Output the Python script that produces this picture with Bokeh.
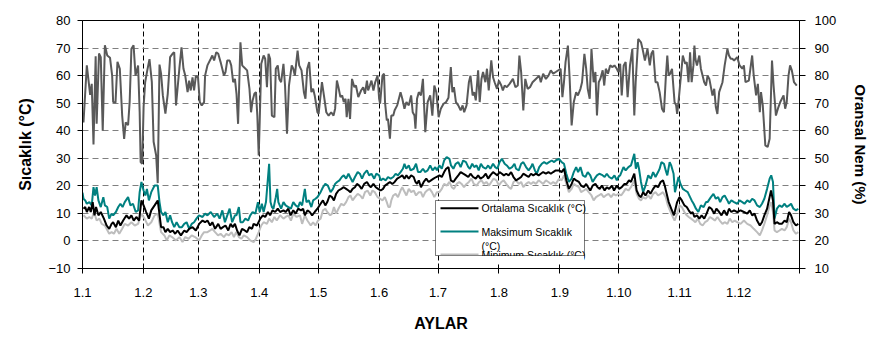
from bokeh.plotting import figure
from bokeh.models import Range1d, LinearAxis, FixedTicker, BoxAnnotation, Label
from bokeh.embed import file_html
from bokeh.resources import INLINE

# ---------------- data (day of year, value) ----------------
month_ticks = [0, 31, 59, 90, 120, 151, 181, 212, 243, 273, 304, 334, 365]
month_labels = ["1.1", "1.2", "1.3", "1.4", "1.5", "1.6", "1.7", "1.8", "1.9",
                "1.10", "1.11", "1.12", ""]
temp_ticks = [-10, 0, 10, 20, 30, 40, 50, 60, 70, 80]
hum_ticks = [10, 20, 30, 40, 50, 60, 70, 80, 90, 100]

# Oransal Nem (%)
humidity = [
    (0.5, 63), (2.2, 83.7), (3.9, 73), (4.7, 77), (5.6, 55), (6.7, 87), (7.2, 62.5), (8.4, 88),
    (9.3, 86.7), (10.3, 60), (11.4, 91), (12.6, 87.3), (14, 86.5), (15.1, 80), (15.6, 70.4),
    (16.8, 70.2), (17.8, 85), (19, 82.5), (20.2, 65.5), (21.2, 57), (22, 63), (23.2, 62),
    (24, 70.4), (24.9, 89.7), (26, 91), (27, 80), (28.3, 83.7), (29.1, 66.8), (29.6, 48.6),
    (30.4, 48), (31.1, 68.6), (31.9, 77.6), (33, 82), (34.1, 86), (35.3, 77.6), (36.2, 56),
    (37.5, 51), (38.3, 41), (39.2, 84), (40, 80.7), (40.9, 72.8), (42.2, 66.2), (43.4, 73.4),
    (44.6, 86.7), (45.9, 88), (46.7, 88.5), (47.6, 69.2), (49.3, 82.5), (50.4, 90.3),
    (51.4, 82.5), (52.3, 80), (53.5, 74), (54.3, 78.2), (55.1, 74.6), (56, 79.4), (56.8, 74.6),
    (57.7, 79.8), (58.8, 79.4), (59.7, 70.4),
    (60.7, 69.2), (61.9, 70.4), (62.4, 80), (63.6, 83.7), (65.3, 86.1), (66.1, 87.3), (67, 85.5),
    (68.1, 88.5), (69.1, 87.9), (70.3, 84.9), (72, 80), (72.8, 81.3), (73.7, 85.5), (74.9, 85.5),
    (75.7, 83.7), (76.7, 77.6), (77.6, 78.8), (78.4, 73.4), (79.2, 62.5), (80.4, 92.1),
    (81.3, 83.7), (82.1, 83.1), (83.8, 81.9), (85, 75.2), (85.8, 66.7), (86.6, 71), (87.5, 73.4),
    (88.3, 74), (89, 65.5), (89.7, 51), (90.2, 63.1), (91, 84.3), (92.2, 87.3), (93, 86.1),
    (93.9, 75.8), (94.7, 87.9), (95.5, 86.1), (96.4, 65.5), (97.7, 64.9), (98.4, 82.5),
    (99.4, 83.7), (100.2, 78.8), (101.1, 77.6), (102.3, 84.3), (103.1, 76.4), (104.1, 58.9),
    (105.1, 76.4), (106.5, 83.7), (107.3, 82.5), (108.1, 80), (109.5, 89.1), (110.3, 83.7),
    (111.5, 81.9), (112.7, 74), (113.5, 71.6), (114.4, 82.5), (115.4, 84.9), (116.5, 74),
    (117.4, 75.2), (118.2, 72.8), (119.6, 66.7), (120.2, 66.1),
    (121.9, 77.6), (122.9, 72.8), (124.1, 66.7), (125.3, 65.5), (126.6, 66.7), (127.8, 65.5),
    (128.6, 68), (129.5, 78.2), (130.3, 75.8), (131.3, 72.2), (132.2, 72.8), (133, 70.4),
    (133.9, 71.6), (134.5, 64.9), (135.4, 71.6), (136.2, 64.3), (137.2, 78.8), (138.4, 75.8),
    (139.2, 76.4), (140.4, 72.2), (141.8, 74.6), (142.9, 75.8), (143.8, 73.4), (144.8, 78.2),
    (145.4, 74.6), (146.3, 76.4), (147.1, 78.2), (148.1, 74.6), (149, 77.6), (150.2, 80),
    (151, 71.6), (151.5, 69.8), (152.7, 80), (153.5, 80.7), (154, 70.4), (154.9, 63.7),
    (155.5, 64.3), (156.5, 57.1), (157.2, 65.5), (158.2, 65.5), (158.9, 67.4), (160.2, 69.2),
    (161.9, 74), (162.8, 71.6), (163.9, 68), (164.9, 70.4), (166.1, 69.2), (167.3, 72.8),
    (168.1, 66.7), (169, 65.5), (169.5, 60.7), (170.3, 71.6), (171.2, 74), (172.3, 72.8),
    (173.3, 78.8), (174.5, 59.5), (175.7, 70.4), (177, 72.8), (178.1, 65.5), (179.1, 76.4),
    (180.1, 74), (181.3, 64.9),
    (182.4, 68), (183.8, 69.8), (185.1, 70.4), (186.3, 72), (187.5, 83.1), (188.3, 74),
    (189.1, 75.8), (190.1, 70.4), (191.3, 69.2), (192.5, 67.4), (193.5, 69.2), (194.3, 66.7),
    (195.5, 69.2), (196.7, 77.6), (197.5, 80), (198.6, 72.8), (199.4, 74), (200.2, 71),
    (201.4, 81.9), (202.2, 70.4), (203.1, 78.8), (203.9, 81.3), (205.1, 77.6), (205.9, 82.5),
    (206.8, 74.6), (208.1, 85.5), (209, 79.4), (209.8, 77.6), (211, 75.2), (212, 78.2),
    (213.2, 76.4), (214, 74.6), (214.9, 76.4), (216, 75.8), (217.4, 77), (219.1, 78.8),
    (220.4, 75.8), (221.6, 76.4), (222.4, 87.3), (223.3, 81.3), (224.4, 67.4), (225.4, 78.8),
    (226.6, 75.2), (227.8, 75.8), (229.1, 77.6), (230.8, 78.8), (232.5, 80), (233.3, 77.6),
    (234.5, 80.7), (235.9, 78.8), (237.2, 80), (238.4, 81.9), (239.6, 80.7), (240.9, 81.3),
    (243.4, 82.5), (244.3, 72.2), (245.1, 77.6), (245.9, 84.9), (247.1, 90.9), (248, 78.8),
    (249, 61.9), (250.1, 70.4), (251.3, 74), (252.2, 72.8), (253.5, 75.2), (254.3, 77.6),
    (255.5, 87.9), (256.4, 82.5), (257.2, 75.2), (258.2, 71.6), (259.1, 89.7), (260.2, 77.6),
    (261.1, 81.3), (261.9, 65.5), (262.8, 77.6), (263.6, 78.8), (264.8, 81.9), (265.6, 76.4),
    (266.4, 82.5), (267.5, 80.7), (268.6, 83.7), (269.8, 83.1), (270.8, 83.7), (272, 82.5),
    (272.8, 81.3), (273.7, 84.3), (274.5, 72.8), (275.5, 83.7), (276.5, 84.9), (277.5, 72.2),
    (278.7, 83.7), (279.9, 89.7), (280.9, 65.5), (281.6, 77.6), (282.9, 93.3), (284.3, 92.1),
    (285.1, 89.7), (286.3, 85.5), (287.6, 89.7), (288.8, 83.7), (289.6, 87.9), (290.5, 89.1),
    (291.7, 77.6), (292.7, 77.6), (293.8, 74), (295, 68), (296, 66.7), (296.9, 78.8),
    (297.7, 87.3), (298.4, 80), (299.2, 80.7), (300.1, 82.5), (301.4, 70.4),
    (302.2, 69.2), (302.7, 66.1), (303.4, 70.4), (305.6, 87.3), (306.8, 84.3), (307.6, 84.9),
    (308.5, 77.6), (309.3, 88.5), (310.1, 77.6), (311, 83.7), (311.5, 90.9), (312, 86.1),
    (312.8, 83.7), (314, 87.3), (314.8, 82.5), (316.5, 77.6), (317.4, 76.4), (318.2, 80),
    (319.1, 78.8), (319.9, 75.8), (320.7, 72.8), (321.6, 75.2), (322.4, 68.6), (323.2, 66.1),
    (324.1, 74), (325.8, 77.6), (326.9, 83.7), (328.3, 89.7), (329.1, 87.3), (330, 86.1),
    (330.8, 86.1), (331.7, 85.5), (333.3, 86.7), (334.5, 83.7), (335.9, 82.5), (336.7, 83.7),
    (337.5, 77.6), (339.2, 78.2), (340.9, 87.3), (341.7, 80), (342.9, 72.8), (343.8, 77),
    (344.8, 66.7), (345.4, 74), (346.3, 69.2), (347.6, 54.7), (348.8, 54.1), (349.8, 57.1),
    (351, 85.5), (351.8, 76.4), (353, 65.5), (354, 68), (355.2, 70.4), (356.9, 72.8),
    (357.7, 68), (358.5, 70.4), (359.4, 80), (360.2, 83.7), (361.1, 81.9), (362.2, 77.6),
    (363.6, 76.4),
]

# Maksimum Sicaklik (°C)
t_max = [
    (0, 17.5), (0.5, 15.3), (1.4, 14.7), (2.2, 13.5), (3.5, 14.1), (4.7, 12.9), (5.6, 19.5),
    (6.4, 16.5), (7.2, 19.5), (8.1, 14.7), (9.3, 12.3), (10.6, 15.9), (11.4, 12.9), (12.6, 12.3),
    (13.6, 8.1), (14.8, 9.9), (15.6, 9.3), (17, 10.5), (18.2, 12.3), (19.3, 13.5), (20.4, 12.3),
    (21.5, 14.1), (23.2, 15.9), (24.4, 12.9), (25.7, 13.5), (27.1, 10.5), (28.3, 11.1),
    (29.1, 17.7), (30, 21.4), (31.1, 18.3), (32, 16.5), (32.8, 18.9), (33.8, 14.7), (35, 17.7),
    (36.7, 20.1), (38.3, 20.1), (39.2, 14.1), (40, 10.5), (41.2, 9.3), (42.2, 10.5), (43.4, 6.8),
    (44.6, 9.3), (45.6, 6.8), (46.7, 5.0), (47.9, 6.8), (49.3, 5.0), (50.6, 5.0), (51.8, 6.2),
    (53, 6.8), (54.3, 4.4), (55.6, 6.2), (56.8, 6.8), (58, 8.1), (59.3, 9.3),
    (61.1, 8.7), (62.4, 9.9), (63.6, 9.3), (65.3, 10.5), (67, 8.7), (68.6, 9.9), (69.8, 8.1),
    (71.2, 11.1), (72.5, 6.8), (73.7, 9.3), (74.9, 11.7), (76.2, 6.8), (77.6, 9.3), (78.4, 9.3),
    (79.6, 12.3), (80.4, 6.8), (81.6, 6.8), (82.9, 8.1), (84.3, 7.4), (85.4, 9.3), (86.6, 10.5),
    (88, 9.9), (89.3, 14.1), (90.2, 10.5), (91.3, 13.5), (92.2, 10.5), (93.4, 14.1), (95, 28.0),
    (95.7, 14.1), (96.4, 12.3), (97.2, 11.7), (98.4, 15.9), (99.1, 18.9), (99.7, 14.1),
    (101.1, 11.7), (102.3, 14.1), (103.4, 12.9), (104.8, 12.3), (106.1, 11.7), (107.3, 14.1),
    (108.5, 12.9), (109.8, 12.3), (110.7, 14.1), (111.8, 12.9), (113.2, 18.9), (114, 14.1),
    (115.2, 14.7), (116.5, 12.3), (117.4, 14.7), (118.6, 15.3), (119.6, 15.9),
    (121.2, 17.7), (122.4, 19.5), (123.6, 20.7), (124.9, 20.1), (126.3, 17.7), (127.5, 18.9),
    (128.6, 20.7), (129.6, 21.4), (130.8, 22.0), (132, 23.2), (133, 23.8), (134.2, 22.6),
    (135.4, 24.4), (136.2, 23.2), (137.5, 21.4), (138.7, 23.2), (140.1, 25.0), (141.2, 24.4),
    (142.3, 22.6), (143.4, 24.4), (144.8, 25.6), (145.9, 23.8), (147.1, 24.4), (148.5, 22.6),
    (149.6, 24.4), (151, 23.8), (151.8, 22.0), (153, 22.6), (154.4, 22.0), (155.5, 23.2),
    (156.9, 22.6), (158.2, 23.2), (159.4, 24.4), (160.6, 23.8), (161.9, 25.0), (163.1, 26.2),
    (163.9, 28.0), (164.8, 26.2), (166.1, 27.4), (167, 25.6), (168.6, 26.2), (169.8, 28.0),
    (170.8, 25.0), (172, 25.0), (173.3, 26.2), (174.5, 25.0), (175.7, 25.6), (177, 27.4),
    (178.2, 25.6), (179.6, 26.8), (180.4, 25.6),
    (181.7, 27.4), (182.9, 26.2), (184.1, 29.2), (185.4, 30.4), (186.8, 29.8), (187.6, 27.4),
    (188.8, 26.2), (190, 28.0), (191.3, 28.6), (192.5, 26.8), (193.8, 29.2), (195.2, 28.6),
    (196.4, 26.8), (197.2, 26.2), (198.4, 28.0), (199.4, 26.8), (200.6, 27.4), (201.7, 25.6),
    (202.8, 28.0), (203.9, 26.8), (205.3, 26.2), (206.5, 27.4), (207.6, 26.2), (209, 28.0),
    (210.1, 26.8), (211.2, 26.2), (212.3, 28.6), (213.5, 29.8), (214.9, 28.0), (216, 27.4),
    (217.4, 26.2), (218.7, 26.8), (219.9, 28.0), (220.7, 26.2), (222.1, 25.6), (223.3, 28.0),
    (224.4, 28.6), (225.8, 26.8), (227.1, 25.6), (228.3, 26.8), (229.1, 28.0), (230.3, 25.6),
    (231.3, 24.4), (232.5, 26.8), (233.8, 28.0), (235, 28.6), (236.2, 28.0), (237.5, 28.6),
    (238.9, 29.2), (240.1, 28.6),
    (240.9, 29.2), (242.6, 29.8), (243.9, 28.6), (245.1, 28.0), (246.3, 24.4), (247.6, 21.4),
    (249, 22.6), (250.1, 25.0), (251.3, 26.8), (252.3, 25.0), (253.5, 26.8), (254.7, 23.8),
    (256, 23.2), (257.2, 25.0), (258.5, 23.8), (259.7, 21.4), (260.7, 22.6), (261.9, 23.8),
    (263.1, 24.4), (264.4, 24.0), (265.8, 23.2), (266.9, 24.4), (268.1, 23.2), (269.5, 22.6),
    (270.8, 23.8), (272, 22.0), (272.8, 23.2), (273.7, 23.8), (275.4, 26.8), (276.5, 25.6),
    (277.9, 26.8), (279.2, 27.4), (280.9, 31.6), (281.7, 26.2), (282.6, 28.6), (283.3, 26.2),
    (284.3, 21.4), (285.4, 17.7), (286.6, 20.1), (288, 23.8), (289.3, 22.6), (290.5, 25.0),
    (291.7, 23.2), (293, 25.0), (293.8, 26.2), (294.7, 28.6), (296, 28.0), (296.9, 25.6),
    (297.7, 23.8), (298.9, 28.6), (299.7, 27.4), (300.9, 24.4),
    (301.6, 17.7), (302.2, 19.5), (303.4, 23.2), (304.4, 20.7), (305.6, 18.9), (306.8, 18.3),
    (308.1, 17.7), (309.3, 15.9), (310.1, 14.7), (311.1, 13.5), (312.3, 11.7), (313.5, 10.5),
    (314.8, 12.9), (316.2, 12.3), (317.4, 14.1), (318.2, 14.1), (319.9, 15.9), (321.2, 17.1),
    (322.4, 15.3), (323.6, 15.9), (324.6, 14.1), (325.8, 15.9), (326.9, 16.5), (328.3, 14.7),
    (329.1, 13.5), (330.3, 14.7), (331.7, 14.1), (333.3, 13.5), (334.5, 14.7), (335.9, 14.1),
    (337, 13.5), (338.4, 14.7), (339.7, 14.1), (340.9, 15.3), (342.1, 14.7), (343.4, 12.9),
    (344.8, 12.3), (345.9, 13.5), (347.1, 15.3), (348.5, 18.9), (349.8, 22.6), (350.6, 23.8),
    (351.5, 21.4), (352.3, 8.1), (353.5, 11.7), (354.8, 12.9), (356, 12.3), (357.4, 13.5),
    (358.5, 12.3), (359.7, 12.9), (360.7, 13.5), (361.9, 11.7), (363.2, 11.1), (364.4, 11.7),
]

# Ortalama Sicaklik (°C)
t_avg = [
    (0.5, 11.7), (1.4, 12.3), (2.2, 10.5), (3.4, 12.3), (4.2, 10.5), (5.2, 14.1), (6.1, 9.3),
    (6.9, 12.3), (8.1, 9.3), (9.3, 10.5), (10.9, 8.1), (12.3, 5.6), (13.6, 4.4), (14.8, 6.2),
    (15.6, 6.8), (17, 5.0), (18.2, 7.4), (19.3, 5.6), (20.7, 7.4), (22.4, 9.3), (23.7, 8.1),
    (24.9, 9.3), (26.1, 7.4), (27.4, 8.7), (28.8, 7.4), (30, 14.7), (31.1, 12.9), (32.4, 10.5),
    (33.8, 8.1), (35, 11.1), (36.7, 12.9), (38.3, 14.7), (40, 5.0), (41.2, 5.0), (42.2, 3.2),
    (43.4, 4.4), (44.6, 3.2), (45.9, 3.8), (47.2, 2.6), (48.4, 3.8), (50.1, 2.0), (51.8, 3.8),
    (53, 3.2), (54.3, 4.4), (56, 5.0), (57.7, 3.8),
    (59.4, 6.2), (61.1, 7.4), (62.4, 6.8), (63.6, 7.4), (65, 5.6), (66.1, 6.8), (67.5, 4.4),
    (69.1, 6.2), (70.3, 4.4), (71.5, 5.0), (72.8, 5.6), (74.2, 3.8), (75.4, 6.2), (76.5, 5.0),
    (77.6, 6.2), (78.7, 3.8), (79.9, 2.0), (81.2, 4.4), (82.6, 3.8), (83.8, 3.2), (84.9, 5.0),
    (86.3, 4.4), (87.1, 6.2), (88.8, 5.6), (90.5, 8.1), (91.8, 9.3), (93, 8.7), (94.4, 10.5),
    (95.5, 9.3), (96.7, 11.1), (98.1, 10.5), (99.4, 11.7), (100.6, 10.5), (102.3, 11.1),
    (103.4, 10.5), (104.8, 11.7), (105.9, 9.3), (107.3, 11.1), (108.5, 9.9), (109.8, 11.7),
    (111.2, 11.1), (112.3, 11.7), (113.2, 9.3), (114.5, 11.1), (115.7, 10.5), (116.9, 9.3),
    (118.2, 10.5), (119.6, 11.7),
    (121.2, 13.5), (122.4, 14.7), (123.6, 12.9), (124.6, 14.1), (125.8, 16.5), (127, 15.9),
    (128, 14.7), (129.1, 17.1), (130.3, 18.3), (131.7, 18.9), (133, 19.5), (134.2, 18.9),
    (135.4, 18.3), (136.4, 17.7), (137.5, 18.9), (138.7, 19.5), (139.7, 20.7), (140.9, 20.1),
    (142.1, 18.9), (143.4, 20.7), (144.8, 21.4), (145.9, 20.1), (146.8, 19.5), (148.1, 20.7),
    (149.3, 19.5), (150.5, 18.9), (151.8, 18.3), (153, 18.9), (154, 20.1), (155.2, 20.7),
    (156.5, 21.4), (157.7, 20.7), (158.9, 21.4), (160.2, 22.6), (161.6, 23.2), (162.8, 23.8),
    (163.9, 22.6), (164.9, 23.8), (166.1, 22.6), (167.3, 23.8), (168.6, 23.2), (169.5, 21.4),
    (170.3, 20.7), (171.2, 22.0), (172.3, 19.5), (173.7, 21.4), (175, 22.6), (176.2, 21.4),
    (177.4, 22.0), (178.7, 22.6), (180.1, 23.2),
    (181.7, 23.8), (182.9, 23.2), (184.1, 25.0), (185.1, 26.2), (186.3, 26.8), (187.5, 22.0),
    (188.8, 21.4), (190, 22.6), (191.3, 23.8), (192.5, 25.0), (193.8, 24.4), (195.2, 23.8),
    (196.4, 23.2), (197.5, 24.4), (198.9, 23.2), (200.2, 22.6), (201.4, 23.8), (202.6, 22.6),
    (203.9, 23.2), (205.3, 24.4), (206.5, 22.6), (207.6, 23.8), (209, 25.0), (210.1, 24.4),
    (211.2, 23.8), (212.3, 25.0), (213.5, 24.4), (214.5, 23.8), (215.7, 24.4), (216.9, 23.8),
    (218.2, 25.0), (219.4, 23.2), (220.7, 22.0), (222.1, 22.6), (223.3, 23.2), (224.4, 24.4),
    (225.8, 23.8), (227.1, 23.2), (228.3, 24.4), (229.5, 23.8), (230.8, 24.4), (232.2, 23.8),
    (233.3, 24.4), (234.5, 25.0), (235.9, 24.4), (237.2, 25.0), (238.4, 24.4), (239.6, 25.0),
    (240.9, 25.6),
    (242.6, 25.6), (243.9, 25.0), (245.1, 26.2), (246.3, 22.0), (247.6, 18.9), (249, 20.7),
    (250.1, 22.6), (251.3, 22.0), (252.7, 21.4), (253.8, 20.1), (255.2, 19.5), (256.4, 20.7),
    (257.4, 19.5), (258.5, 18.3), (259.7, 20.1), (261.1, 20.7), (262.2, 19.5), (263.3, 18.9),
    (264.4, 20.1), (265.8, 18.3), (266.9, 19.5), (268.1, 18.9), (269.5, 20.1), (270.6, 18.3),
    (272, 20.1), (273.2, 18.9), (274.5, 19.5), (275.9, 20.7), (277, 20.7), (278.2, 22.0),
    (279.2, 21.4), (280.9, 24.4), (282.1, 18.3), (283.3, 16.5), (284.3, 15.9), (285.4, 17.7),
    (286.6, 16.5), (288, 18.3), (289.1, 17.1), (290.5, 18.9), (291.7, 20.1), (293, 19.5),
    (294.3, 21.4), (295.5, 22.0), (296.4, 20.1), (297.2, 17.7), (298.4, 14.1), (299.7, 11.7),
    (301.1, 9.3),
    (302.7, 14.1), (303.9, 15.9), (305.1, 14.7), (306.4, 12.9), (307.6, 12.3), (308.6, 11.1),
    (309.8, 9.9), (310.6, 10.5), (311.5, 8.7), (312.8, 9.3), (314, 8.1), (315.2, 9.3),
    (316.5, 8.1), (317.7, 9.9), (319, 12.3), (320.2, 11.7), (321.6, 9.9), (322.7, 11.7),
    (324.1, 10.5), (325.3, 9.3), (326.6, 11.1), (328, 9.3), (329.1, 11.7), (330.3, 10.5),
    (331.7, 11.1), (333.3, 10.5), (335, 11.1), (336.7, 10.5), (338.4, 9.9), (339.7, 11.1),
    (340.9, 9.3), (342.1, 9.9), (343.4, 7.4), (344.8, 5.6), (345.9, 6.8), (347.1, 9.3),
    (348.5, 11.7), (349.6, 15.3), (350.5, 18.3), (351.5, 14.7), (352.3, 6.2), (353.5, 6.8),
    (354.8, 6.2), (356, 6.2), (357.4, 7.4), (358.5, 6.8), (359.7, 10.5), (360.7, 9.3),
    (361.9, 6.8), (363.2, 5.6), (364.4, 6.2),
]

# Minimum Sicaklik (°C)
t_min = [
    (0.5, 9.3), (2.2, 8.1), (3.5, 8.7), (4.7, 8.1), (5.9, 10.5), (7.2, 7.4), (8.6, 8.1),
    (9.8, 6.2), (11.4, 5.6), (13.6, 2.6), (14.8, 3.2), (16, 2.6), (17.3, 4.4), (18.7, 2.6),
    (20.2, 4.4), (21.5, 6.2), (23.2, 5.6), (24.9, 6.8), (26.6, 5.6), (28.3, 6.2), (30, 9.9),
    (31.6, 8.1), (33.3, 5.6), (35, 6.8), (36.7, 9.3), (38.3, 9.9), (40, 3.2), (41.7, 2.0),
    (42.9, 0.2), (44.2, 2.0), (45.6, 1.4), (47.6, 0.2), (49.3, 1.4), (50.9, -0.4), (52.3, 1.4),
    (54, 0.8), (55.6, 2.0), (57.3, 1.4),
    (59.4, 0.2), (60.7, 2.0), (61.9, 3.2), (63.6, 3.2), (65, 3.8), (66.1, 4.4), (67.5, 3.2),
    (69, 2.0), (70.3, 2.6), (72, 1.4), (73.2, 2.6), (74.5, 2.0), (75.9, 3.2), (77.1, 1.4),
    (78.2, 3.2), (79.6, 1.4), (80.9, 0.8), (82.1, 2.0), (83.8, 1.4), (85.4, 0.2), (87.1, -0.4),
    (88.3, 0.8), (89.7, 3.2), (91, 5.6), (92.2, 6.8), (93.9, 6.2), (95, 8.1), (96.4, 6.8),
    (97.7, 8.7), (98.9, 7.4), (100.6, 9.3), (102.3, 8.1), (103.4, 8.7), (104.8, 9.3),
    (106.1, 7.4), (107.3, 9.9), (109, 8.7), (110.7, 9.3), (111.8, 6.2), (113.2, 9.3),
    (114.5, 7.4), (116.2, 5.6), (117.4, 6.8), (118.6, 5.6), (119.9, 7.4),
    (121.2, 8.1), (122.4, 11.1), (123.6, 11.7), (124.6, 10.5), (126.1, 9.3), (127, 9.9),
    (128, 12.3), (129.1, 9.9), (130.3, 11.7), (131.7, 13.5), (133, 12.9), (134.2, 14.1),
    (135.4, 15.9), (136.4, 16.5), (137.5, 14.7), (138.7, 15.9), (140.1, 17.1), (141.4, 16.5),
    (142.6, 15.3), (143.8, 17.7), (145.1, 18.3), (146.5, 16.5), (147.6, 18.3), (148.8, 17.7),
    (150.2, 15.9), (151.5, 15.3), (152.7, 14.7), (153.9, 15.9), (154.9, 14.1), (155.7, 12.3),
    (156.5, 12.3), (157.2, 14.7), (158.2, 16.5), (159.4, 17.1), (160.6, 15.9), (161.9, 18.3),
    (162.8, 19.5), (163.6, 18.3), (164.9, 16.5), (166.1, 18.9), (167.3, 17.7), (168.6, 18.3),
    (169.8, 16.5), (171.2, 17.7), (172.3, 17.7), (173.3, 15.9), (174.5, 17.7), (175.4, 18.3),
    (176.7, 18.9), (177.9, 17.7), (179.1, 15.9), (180.4, 17.7),
    (181.7, 17.7), (182.9, 18.9), (184.1, 20.7), (185.4, 20.1), (186.8, 21.4), (188, 19.5),
    (189.1, 18.9), (190.5, 20.7), (191.8, 21.4), (193, 20.7), (194.2, 19.5), (195.5, 20.7),
    (196.7, 21.4), (198, 22.6), (199.2, 20.7), (200.6, 20.1), (201.9, 21.4), (203.1, 22.0),
    (204.3, 20.7), (205.6, 21.4), (207, 20.1), (208.1, 21.4), (209.3, 22.6), (210.7, 22.0),
    (212, 20.1), (213.2, 21.4), (214.4, 22.0), (215.7, 20.7), (217, 19.5), (218.2, 18.9),
    (219.4, 21.4), (220.7, 22.0), (222.1, 20.7), (223.3, 21.4), (224.4, 19.5), (225.8, 20.7),
    (227.1, 21.4), (228.3, 20.7), (229.5, 21.4), (230.8, 20.7), (232.2, 22.0), (233.3, 21.4),
    (234.5, 20.7), (235.9, 22.0), (237.2, 21.4), (238.4, 20.7), (239.6, 21.4), (240.9, 20.7),
    (242.6, 22.6), (243.9, 22.0), (245.1, 23.8), (246.3, 20.7), (247.6, 17.7), (249, 18.9),
    (250.1, 20.7), (251.3, 20.1), (252.7, 19.5), (253.8, 17.7), (255.2, 18.3), (256.4, 18.9),
    (257.7, 17.7), (259.1, 16.5), (260.2, 14.7), (261.4, 15.9), (262.8, 16.5), (264.1, 17.1),
    (265.3, 15.9), (266.4, 16.5), (267.8, 17.1), (269.1, 15.9), (270.3, 17.1), (271.5, 16.5),
    (272.8, 17.1), (274.2, 16.5), (275.4, 17.7), (276.5, 18.9), (277.9, 18.3), (279.2, 19.5),
    (280.9, 22.0), (282.1, 17.1), (283.3, 15.3), (284.3, 14.7), (285.4, 15.9), (286.6, 15.3),
    (288, 16.5), (289.3, 15.3), (290.5, 17.1), (291.7, 17.7), (293, 16.5), (294.3, 17.1),
    (295.5, 17.7), (296.9, 15.9), (298, 12.9), (299.4, 10.5), (300.9, 8.1),
    (301.4, 7.4), (302.7, 9.9), (303.9, 12.9), (305.1, 12.3), (306.4, 10.5), (307.6, 9.3),
    (308.6, 8.7), (309.8, 8.1), (311, 7.4), (312, 6.8), (313.2, 8.1), (314.5, 6.2),
    (315.7, 5.6), (316.9, 6.8), (318.2, 7.4), (319.4, 8.7), (320.7, 8.1), (321.9, 7.4),
    (323.2, 8.7), (324.4, 7.4), (325.8, 6.2), (326.9, 6.8), (328.3, 6.2), (329.5, 8.1),
    (330.8, 6.8), (332, 7.4), (333.3, 6.8), (335, 6.2), (336.7, 7.4), (338.4, 6.2),
    (340.1, 5.6), (341.7, 4.4), (343.4, 3.2), (344.8, 2.0), (345.9, 3.8), (347.1, 6.2),
    (348.5, 9.3), (349.6, 12.3), (350.6, 14.1), (351.5, 10.5), (352.3, 3.8), (353.5, 3.2),
    (354.8, 3.8), (356, 4.4), (357.4, 3.8), (358.5, 5.0), (359.7, 8.1), (360.7, 6.8),
    (361.9, 3.8), (363.2, 2.6), (364.4, 3.2),
]

legend_labels = ["Ortalama Sıcaklık (°C)", "Maksimum Sıcaklık", "(°C)", "Minimum Sıcaklık (°C)"]

# ---------------- styling ----------------
FONT = "Liberation Sans"
C_HUM = "#595959"
C_MAX = "#008080"
C_AVG = "#000000"
C_MIN = "#bdbdbd"

p = figure(width=872, height=337, x_range=Range1d(0, 365), y_range=Range1d(-10, 80),
           output_backend="svg", toolbar_location=None,
           min_border_left=82, min_border_right=66, min_border_top=20, min_border_bottom=69)
p.extra_y_ranges = {"nem": Range1d(10, 100)}
p.background_fill_color = "white"
p.border_fill_color = "white"
p.outline_line_color = "black"
p.outline_line_width = 1
# thin frame round the whole chart, as in the original picture (CSS outline: no layout change)
p.styles = {"outline": "1px solid #222222", "outline-offset": "-2px"}

def xs(series):
    return [d for d, v in series]

def ys(series):
    return [v for d, v in series]

p.line(xs(humidity), ys(humidity), y_range_name="nem", line_color=C_HUM, line_width=2)
p.line(xs(t_min), ys(t_min), line_color=C_MIN, line_width=2)
p.line(xs(t_max), ys(t_max), line_color=C_MAX, line_width=2)
p.line(xs(t_avg), ys(t_avg), line_color=C_AVG, line_width=2)

# axes
p.xaxis.ticker = FixedTicker(ticks=month_ticks)
p.xaxis.major_label_overrides = {t: l for t, l in zip(month_ticks, month_labels)}
p.xaxis.axis_label = "AYLAR"
p.yaxis.ticker = FixedTicker(ticks=temp_ticks)
p.yaxis.axis_label = "Sıcaklık (°C)"

right = LinearAxis(y_range_name="nem", ticker=FixedTicker(ticks=hum_ticks),
                   axis_label="Oransal Nem (%)")
p.add_layout(right, "right")

for ax in [p.xaxis[0], p.yaxis[0], right]:
    ax.axis_line_color = "black"
    ax.axis_line_width = 1
    ax.major_tick_line_color = "black"
    ax.major_tick_in = 0
    ax.major_tick_out = 5
    ax.minor_tick_line_color = None
    ax.major_label_text_font = FONT
    ax.major_label_text_font_size = "13px"
    ax.major_label_text_color = "black"
    ax.axis_label_text_font = FONT
    ax.axis_label_text_font_style = "bold"
    ax.axis_label_text_font_size = "16px"
    ax.axis_label_text_color = "black"

p.yaxis[0].major_label_standoff = 7
p.yaxis[0].axis_label_standoff = 11
right.major_tick_out = 6
right.major_label_standoff = 9
right.axis_label_standoff = 13
right.axis_label_text_font_size = "15px"
p.xaxis[0].major_label_standoff = 14
p.xaxis[0].axis_label_standoff = 15

# grids
p.ygrid.grid_line_color = "#808080"
p.ygrid.grid_line_dash = "6 4"
p.ygrid.grid_line_width = 1
p.xgrid.grid_line_color = "black"
p.xgrid.grid_line_dash = "5 3"
p.xgrid.grid_line_width = 1

# ---------------- legend (drawn as annotations, screen units relative to frame) ----------------
def sbox(l, r, b, t, **kw):
    return BoxAnnotation(left=l, right=r, bottom=b, top=t,
                         left_units="screen", right_units="screen",
                         bottom_units="screen", top_units="screen", **kw)

p.add_layout(sbox(353, 502, 13, 68, fill_color="white", fill_alpha=1.0,
                  line_color="black", line_width=1))
for yc, col in [(60.3, C_AVG), (37, C_MAX), (14, C_MIN)]:
    p.add_layout(sbox(358, 396, yc - 1, yc + 1, fill_color=col, fill_alpha=1.0,
                      line_color=None))
for txt, yc in zip(legend_labels, [60.3, 37, 23, 14]):
    p.add_layout(Label(x=399, y=yc, x_units="screen", y_units="screen", text=txt,
                       text_font=FONT, text_font_size="10.5px", text_color="black",
                       text_baseline="middle", text_align="left"))
# the legend box cuts the last entry in half, as in the original
p.add_layout(sbox(397, 501.5, 4, 12.4, fill_color="white", fill_alpha=1.0, line_color=None))
p.add_layout(sbox(353, 502, 13, 68, fill_alpha=0.0, line_color="black", line_width=1))

open("out.html", "w").write(file_html(p, INLINE))
